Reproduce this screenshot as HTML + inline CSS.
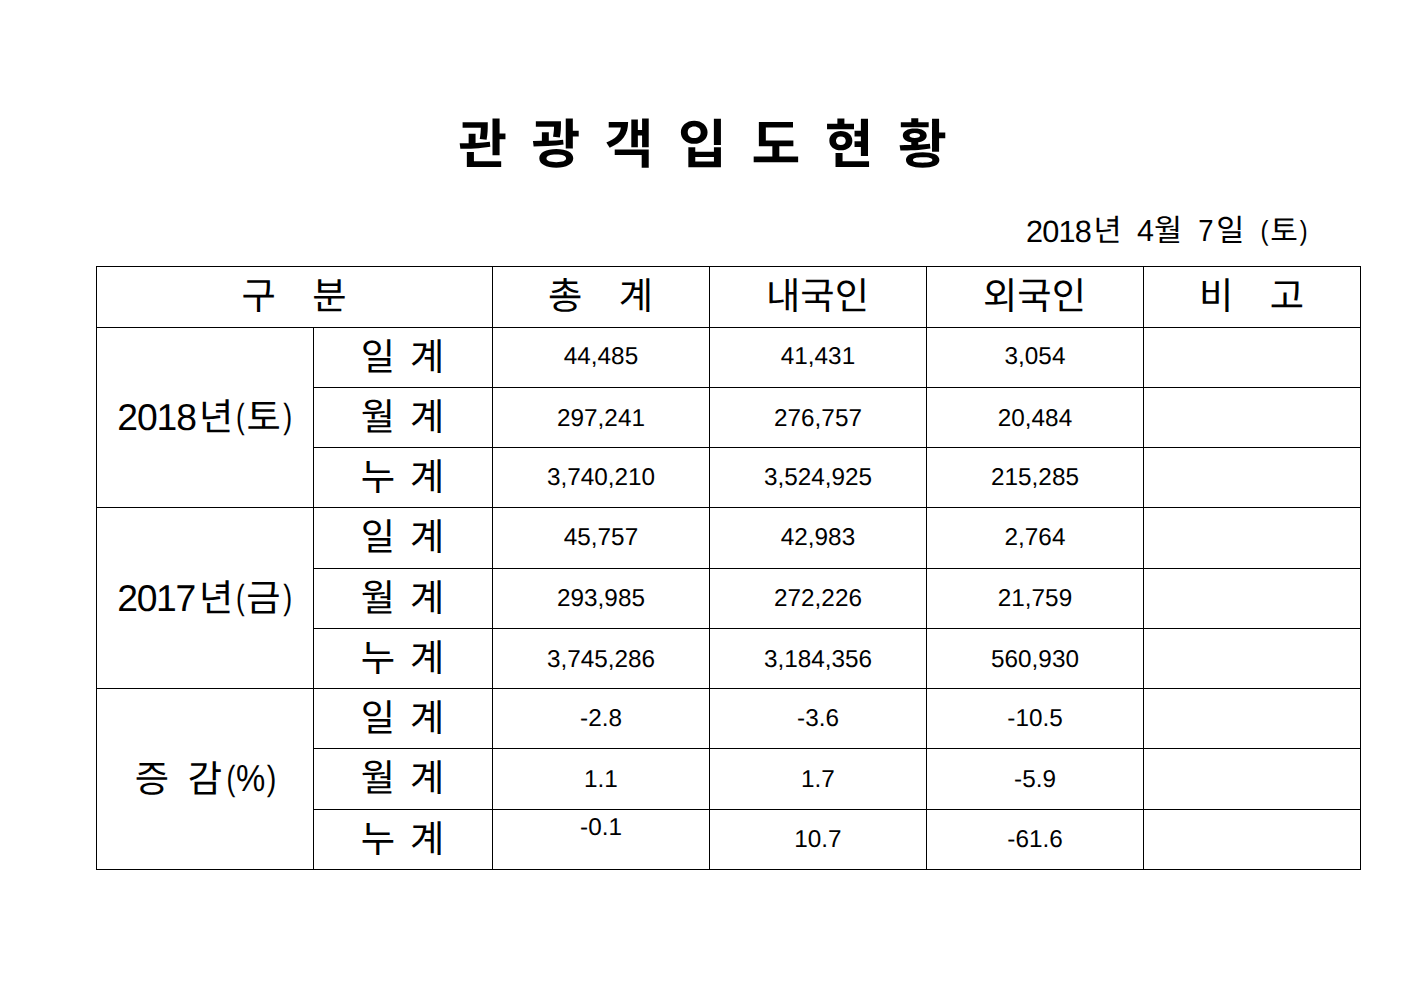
<!DOCTYPE html>
<html lang="ko">
<head>
<meta charset="utf-8">
<title>관광객 입도현황</title>
<style>
html,body{margin:0;padding:0;background:#fff}
body{font-family:"Liberation Sans","Noto Sans CJK KR",sans-serif;color:#000;text-rendering:geometricPrecision}
#page{position:relative;width:1403px;height:992px;background:#fff;overflow:hidden}
.t{position:absolute;left:0;top:0;display:block;white-space:nowrap;transform-origin:0 0;margin:0;padding:0}
.k{font-family:"Liberation Sans","Noto Sans CJK KR",sans-serif;text-align:center;color:#000}
h1,p{margin:0;padding:0;font-weight:normal;font-size:0}
h1,p{height:0}
table{margin:266px 0 0 96px;border-collapse:collapse;border-spacing:0;table-layout:fixed;width:1264px}
td,th{border:1px solid #000;padding:0;margin:0;font-weight:normal;text-align:center;vertical-align:middle;overflow:visible}
td.n{font-size:24.3px;line-height:28px;padding:0 0 3px}
td.n span{position:relative}
td.n.top{vertical-align:top;padding:4px 0 0}
</style>
</head>
<body>
<div id="page">
<h1><span class="t k" id="title" style="transform:translate(422.5px,113.6px);width:560px;font-size:53px;line-height:64px;font-weight:bold;word-spacing:9.8px">관 광 객 입 도 현 황</span></h1>
<p class="date"><span class="t" id="d_2018" style="transform:translate(1025.96px,213.88px);font-size:30.65px;line-height:37px;letter-spacing:-0.79px">2018</span><span class="t k" id="d_nyeon" style="transform:translate(1090.55px,213.3px);width:34px;font-size:30.52px;line-height:37px">년</span><span class="t" id="d_4" style="transform:translate(1137.00px,213.30px) scaleX(0.9989);font-size:30.52px;line-height:37px">4</span><span class="t k" id="d_wol" style="transform:translate(1151px,213.3px);width:34px;font-size:30.52px;line-height:37px">월</span><span class="t" id="d_7" style="transform:translate(1198.35px,213.30px) scaleX(0.9002);font-size:30.52px;line-height:37px">7</span><span class="t k" id="d_il" style="transform:translate(1213.35px,213.3px);width:34px;font-size:30.52px;line-height:37px">일</span><span class="t" id="d_lp" style="transform:translate(1260.47px,214.02px) scaleX(0.8683);font-size:27.59px;line-height:33px">(</span><span class="t k" id="d_to" style="transform:translate(1267px,212.8px);width:34px;font-size:30px;line-height:37px">토</span><span class="t" id="d_rp" style="transform:translate(1299.82px,214.10px) scaleX(0.8539);font-size:27.59px;line-height:33px">)</span></p>
<table>
<colgroup><col style="width:217px"><col style="width:179px"><col style="width:217px"><col style="width:217px"><col style="width:217px"><col style="width:217px"></colgroup>
<tr style="height:61px"><th colspan="2"><span class="t k" id="h_gubun" style="transform:translate(96px,273.5px);width:396px;font-size:37.3px;line-height:45px;word-spacing:26px">구 분</span></th><th><span class="t k" id="h_chong" style="transform:translate(492px,273.5px);width:217px;font-size:37.3px;line-height:45px;word-spacing:26px">총 계</span></th><th><span class="t k" id="h_nae" style="transform:translate(709px,273.5px);width:217px;font-size:37.3px;line-height:45px">내국인</span></th><th><span class="t k" id="h_oe" style="transform:translate(926px,273.5px);width:217px;font-size:37.3px;line-height:45px">외국인</span></th><th><span class="t k" id="h_bigo" style="transform:translate(1143px,273.5px);width:217px;font-size:37.3px;line-height:45px;word-spacing:26px">비 고</span></th></tr>
<tr style="height:60px"><th rowspan="3"><span class="t" id="l18_y" style="transform:translate(117.28px,394.75px);font-size:37.29px;line-height:45px;letter-spacing:-1.09px">2018</span><span class="t k" id="l18_nyeon" style="transform:translate(196.2px,394.75px);width:40px;font-size:37.29px;line-height:45px">년</span><span class="t" id="l18_lp" style="transform:translate(236.00px,396.00px) scaleX(0.7510);font-size:34.78px;line-height:42px">(</span><span class="t k" id="l18_to" style="transform:translate(243.55px,394.75px);width:40px;font-size:37.29px;line-height:45px">토</span><span class="t" id="l18_rp" style="transform:translate(283.25px,396.00px) scaleX(0.7707);font-size:34.78px;line-height:42px">)</span></th><th><span class="t k" id="s0" style="transform:translate(313px,334.5px);width:179px;font-size:37.3px;line-height:45px;word-spacing:4.5px">일 계</span></th><td class="n"><span id="n0_0" style="top:1px">44,485</span></td><td class="n"><span id="n0_1" style="top:1px">41,431</span></td><td class="n"><span id="n0_2" style="top:1px">3,054</span></td><td></td></tr>
<tr style="height:60px"><th><span class="t k" id="s1" style="transform:translate(313px,394.5px);width:179px;font-size:37.3px;line-height:45px;word-spacing:4.5px">월 계</span></th><td class="n"><span id="n1_0" style="top:3px">297,241</span></td><td class="n"><span id="n1_1" style="top:3px">276,757</span></td><td class="n"><span id="n1_2" style="top:3px">20,484</span></td><td></td></tr>
<tr style="height:60px"><th><span class="t k" id="s2" style="transform:translate(313px,454.5px);width:179px;font-size:37.3px;line-height:45px;word-spacing:4.5px">누 계</span></th><td class="n"><span id="n2_0" style="top:2px">3,740,210</span></td><td class="n"><span id="n2_1" style="top:2px">3,524,925</span></td><td class="n"><span id="n2_2" style="top:2px">215,285</span></td><td></td></tr>
<tr style="height:61px"><th rowspan="3"><span class="t" id="l17_y" style="transform:translate(117.23px,575.75px);font-size:37.29px;line-height:45px;letter-spacing:-1.33px">2017</span><span class="t k" id="l17_nyeon" style="transform:translate(196.2px,575.75px);width:40px;font-size:37.29px;line-height:45px">년</span><span class="t" id="l17_lp" style="transform:translate(236.00px,577.00px) scaleX(0.7510);font-size:34.78px;line-height:42px">(</span><span class="t k" id="l17_geum" style="transform:translate(243.4px,575.75px);width:40px;font-size:37.29px;line-height:45px">금</span><span class="t" id="l17_rp" style="transform:translate(283.25px,577.00px) scaleX(0.7707);font-size:34.78px;line-height:42px">)</span></th><th><span class="t k" id="s3" style="transform:translate(313px,514.5px);width:179px;font-size:37.3px;line-height:45px;word-spacing:4.5px">일 계</span></th><td class="n"><span id="n3_0" style="top:1px">45,757</span></td><td class="n"><span id="n3_1" style="top:1px">42,983</span></td><td class="n"><span id="n3_2" style="top:1px">2,764</span></td><td></td></tr>
<tr style="height:60px"><th><span class="t k" id="s4" style="transform:translate(313px,575.5px);width:179px;font-size:37.3px;line-height:45px;word-spacing:4.5px">월 계</span></th><td class="n"><span id="n4_0" style="top:2px">293,985</span></td><td class="n"><span id="n4_1" style="top:2px">272,226</span></td><td class="n"><span id="n4_2" style="top:2px">21,759</span></td><td></td></tr>
<tr style="height:60px"><th><span class="t k" id="s5" style="transform:translate(313px,635.5px);width:179px;font-size:37.3px;line-height:45px;word-spacing:4.5px">누 계</span></th><td class="n"><span id="n5_0" style="top:3px">3,745,286</span></td><td class="n"><span id="n5_1" style="top:3px">3,184,356</span></td><td class="n"><span id="n5_2" style="top:3px">560,930</span></td><td></td></tr>
<tr style="height:60px"><th rowspan="3"><span class="t k" id="lz_jg" style="transform:translate(128.4px,756.8px);width:100px;font-size:37.3px;line-height:45px;word-spacing:8.3px">증 감</span><span class="t" id="lz_lp" style="transform:translate(226.53px,758.13px) scaleX(0.7664);font-size:34.88px;line-height:42px">(</span><span class="t" id="lz_pc" style="transform:translate(236.00px,756.44px) scaleX(0.8762);font-size:37.59px;line-height:45px">%</span><span class="t" id="lz_rp" style="transform:translate(266.73px,758.13px) scaleX(0.8256);font-size:34.88px;line-height:42px">)</span></th><th><span class="t k" id="s6" style="transform:translate(313px,695.5px);width:179px;font-size:37.3px;line-height:45px;word-spacing:4.5px">일 계</span></th><td class="n"><span id="n6_0" style="top:2px">-2.8</span></td><td class="n"><span id="n6_1" style="top:2px">-3.6</span></td><td class="n"><span id="n6_2" style="top:2px">-10.5</span></td><td></td></tr>
<tr style="height:61px"><th><span class="t k" id="s7" style="transform:translate(313px,755.5px);width:179px;font-size:37.3px;line-height:45px;word-spacing:4.5px">월 계</span></th><td class="n"><span id="n7_0" style="top:2px">1.1</span></td><td class="n"><span id="n7_1" style="top:2px">1.7</span></td><td class="n"><span id="n7_2" style="top:2px">-5.9</span></td><td></td></tr>
<tr style="height:60px"><th><span class="t k" id="s8" style="transform:translate(313px,816.5px);width:179px;font-size:37.3px;line-height:45px;word-spacing:4.5px">누 계</span></th><td class="n top"><span id="n8_0">-0.1</span></td><td class="n"><span id="n8_1" style="top:2px">10.7</span></td><td class="n"><span id="n8_2" style="top:2px">-61.6</span></td><td></td></tr>
</table>
</div>
</body>
</html>
